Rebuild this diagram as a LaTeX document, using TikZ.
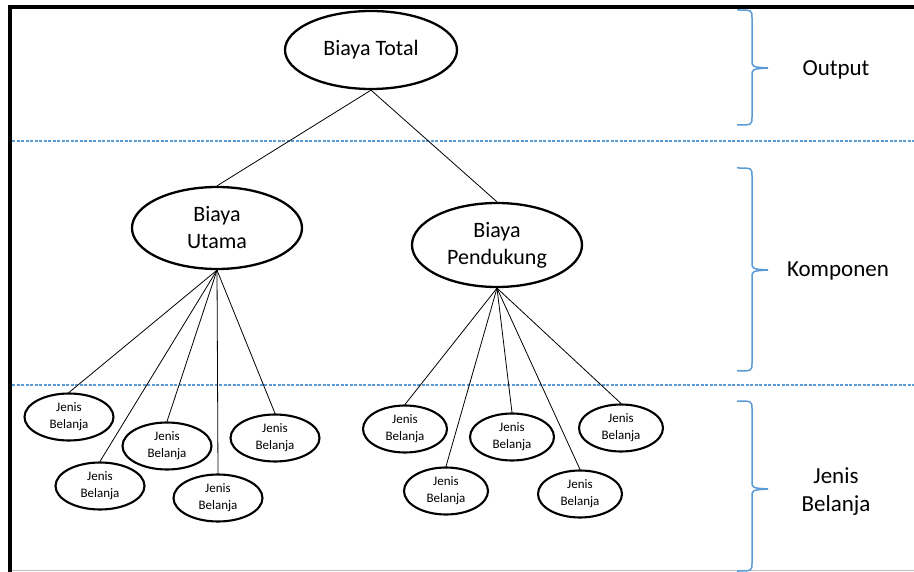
\documentclass[tikz,border=0pt]{standalone}
\usepackage{fontspec}
\setmainfont{Carlito}
\usepackage{tikz}
\usetikzlibrary{shapes.geometric, positioning}
\definecolor{garis}{RGB}{91,155,213}

\begin{document}
\begin{tikzpicture}[x=1pt, y=-1pt,
      oval/.style={ellipse, draw, line width=2.3pt, inner sep=0pt, align=center, font=\fontsize{22}{27}\selectfont},
      leaf/.style={ellipse, draw, line width=2.1pt, inner sep=0pt, minimum width=89pt, minimum height=47pt, align=center, font=\fontsize{13}{17}\selectfont},
      link/.style={black, line width=0.8pt},
      sekat/.style={garis, dash pattern=on 3pt off 1.5pt, line width=1.1pt},
      kurung/.style={garis, line width=1.5pt},
      ket/.style={align=center, font=\fontsize{23}{28}\selectfont},
    ]
    \useasboundingbox (0,0) rectangle (914,572);
    % frame and layer separators
    \draw[gray!50, line width=0.8pt] (10,570.5) -- (914,570.5);
    \draw[line width=4pt] (10,572) -- (10,7) -- (914,7);
    \draw[sekat] (12,141) -- (914,141);
    \draw[sekat] (12,385) -- (914,385);
    % tree
    \node[oval, minimum width=172pt, minimum height=78pt] (total) at (371,50) {Biaya Total};
    \node[oval, minimum width=170pt, minimum height=82pt] (utama) at (217,228) {Biaya\\Utama};
    \node[oval, minimum width=170pt, minimum height=84pt] (dukung) at (497,245) {Biaya\\Pendukung};
    \node[leaf] (u1) at (69,417) {Jenis\\Belanja};
    \node[leaf] (u2) at (100,486) {Jenis\\Belanja};
    \node[leaf] (u3) at (167,446) {Jenis\\Belanja};
    \node[leaf] (u4) at (218,498) {Jenis\\Belanja};
    \node[leaf] (u5) at (275,438) {Jenis\\Belanja};
    \node[leaf, minimum width=84pt] (d1) at (405,429) {Jenis\\Belanja};
    \node[leaf, minimum width=84pt] (d2) at (446,491) {Jenis\\Belanja};
    \node[leaf, minimum width=84pt] (d3) at (512,437) {Jenis\\Belanja};
    \node[leaf, minimum width=84pt] (d4) at (580,494) {Jenis\\Belanja};
    \node[leaf, minimum width=84pt] (d5) at (621,428) {Jenis\\Belanja};
    \draw[link] (total.south) -- (utama.north); \draw[link] (total.south) -- (dukung.north);
    \draw[link] (utama.south) -- (u1.north); \draw[link] (utama.south) -- (u2.north);
    \draw[link] (utama.south) -- (u3.north); \draw[link] (utama.south) -- (u4.north);
    \draw[link] (utama.south) -- (u5.north);
    \draw[link] (dukung.south) -- (d1.north); \draw[link] (dukung.south) -- (d2.north);
    \draw[link] (dukung.south) -- (d3.north); \draw[link] (dukung.south) -- (d4.north);
    \draw[link] (dukung.south) -- (d5.north);
    % braces with layer names
    \foreach \t/\m/\b in {10/68/125, 168/270/371, 401/489/571}
      \draw[kurung] (737,\t) .. controls (752,\t) .. (752,\t+8) -- (752,\m-8)
        .. controls (752,\m-1) .. (768,\m) .. controls (752,\m+1) .. (752,\m+8)
        -- (752,\b-8) .. controls (752,\b) .. (737,\b);
    \node[ket] (output) at (836,70) {Output};
    \node[ket] (komp) at (838,271) {Komponen};
    \node[ket] (jenis) at (836,492) {Jenis\\Belanja};
  \end{tikzpicture}
\end{document}
